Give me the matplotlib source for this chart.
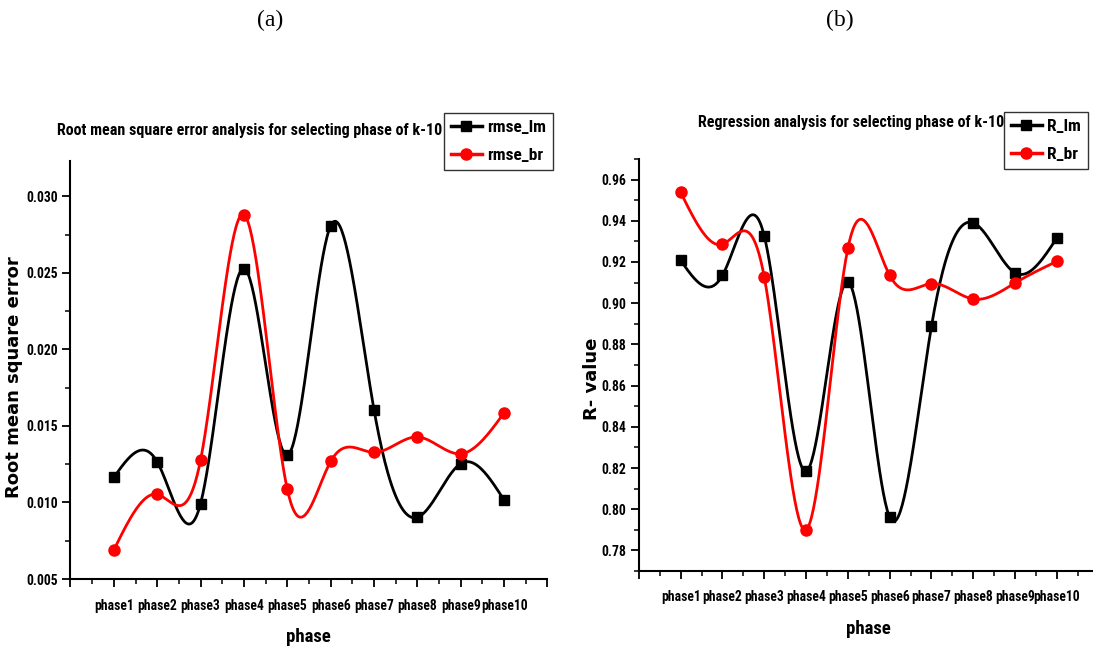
import numpy as np
import matplotlib.pyplot as plt
from matplotlib.ticker import MultipleLocator, FixedLocator
from matplotlib import font_manager

# Data
phases = ["phase1", "phase2", "phase3", "phase4", "phase5",
          "phase6", "phase7", "phase8", "phase9", "phase10"]
rmse_lm = [0.01164, 0.01265, 0.00993, 0.02528, 0.01309,
           0.02807, 0.01605, 0.00903, 0.01254, 0.01015]
rmse_br = [0.00690, 0.01053, 0.01278, 0.02880, 0.01086,
           0.01268, 0.01327, 0.01428, 0.01318, 0.01586]
r_lm = [0.9208, 0.9135, 0.9326, 0.8184, 0.9103,
        0.7961, 0.8888, 0.9390, 0.9147, 0.9317]
r_br = [0.9538, 0.9286, 0.9127, 0.7900, 0.9266,
        0.9135, 0.9095, 0.9020, 0.9098, 0.9203]

# pick a condensed face if one is around, otherwise shrink the regular one
names = {f.name for f in font_manager.fontManager.ttflist}
narrow, scale = "Liberation Sans", 0.82
for cand in ["Liberation Sans Narrow", "Roboto Condensed", "DejaVu Sans Condensed", "Arial Narrow"]:
    if cand in names:
        narrow, scale = cand, 1.0
        break


def natural_spline(x, y, n=400):
    # natural cubic spline through the points
    x = np.asarray(x, float)
    y = np.asarray(y, float)
    k = len(x)
    h = np.diff(x)
    A = np.zeros((k, k))
    b = np.zeros(k)
    A[0, 0] = A[-1, -1] = 1
    for i in range(1, k - 1):
        A[i, i - 1] = h[i - 1]
        A[i, i] = 2 * (h[i - 1] + h[i])
        A[i, i + 1] = h[i]
        b[i] = 3 * ((y[i + 1] - y[i]) / h[i] - (y[i] - y[i - 1]) / h[i - 1])
    c = np.linalg.solve(A, b)
    xs = np.linspace(x[0], x[-1], n)
    idx = np.clip(np.searchsorted(x, xs) - 1, 0, k - 2)
    dx = xs - x[idx]
    bb = (y[idx + 1] - y[idx]) / h[idx] - h[idx] * (2 * c[idx] + c[idx + 1]) / 3
    d = (c[idx + 1] - c[idx]) / (3 * h[idx])
    ys = y[idx] + bb * dx + c[idx] * dx ** 2 + d * dx ** 3
    return xs, ys


def draw(ax, lm, br, labels, ylim, major, minor, fmt, ylabel, title, title_xy,
         ylab_xy, xlab_xy, leg_anchor, xpad):
    x = np.arange(1, len(phases) + 1)
    for vals, color, marker, ms, lab in [(lm, "black", "s", 7, labels[0]),
                                         (br, "red", "o", 8, labels[1])]:
        xs, ys = natural_spline(x, vals)
        ax.plot(xs, ys, color=color, lw=2)
        ax.plot(x, vals, linestyle="none", marker=marker, color=color, ms=ms)
        ax.plot([], [], color=color, lw=2.5, marker=marker, ms=ms, label=lab)

    ax.set_xlim(0, 11)
    ax.set_ylim(*ylim)
    ax.xaxis.set_major_locator(FixedLocator(range(0, 12)))
    ax.xaxis.set_minor_locator(MultipleLocator(0.5))
    ax.set_xticklabels([""] + phases + [""])
    ax.yaxis.set_major_locator(MultipleLocator(major))
    ax.yaxis.set_minor_locator(MultipleLocator(minor))
    ax.yaxis.set_major_formatter(plt.FormatStrFormatter(fmt))

    for s in ["top", "right"]:
        ax.spines[s].set_visible(False)
    for s in ["left", "bottom"]:
        ax.spines[s].set_linewidth(1.5)
    ax.tick_params(which="major", length=6, width=1.3, direction="out")
    ax.tick_params(which="minor", length=3.5, width=1.1, direction="out")
    ax.tick_params(axis="x", which="major", pad=xpad)
    ax.tick_params(axis="y", which="major", pad=3)
    for t in ax.get_xticklabels() + ax.get_yticklabels():
        t.set_fontfamily(narrow)
        t.set_fontweight("bold")
        t.set_fontsize(9.8 * scale)

    ax.set_xlabel("phase", fontfamily=narrow, fontweight="bold", fontsize=13.5 * scale)
    ax.xaxis.set_label_coords(*xlab_xy)
    ax.set_ylabel(ylabel, fontfamily="DejaVu Sans", fontweight="bold", fontsize=13)
    ax.yaxis.set_label_coords(*ylab_xy)
    ax.figure.text(title_xy[0], title_xy[1], title, fontfamily=narrow, fontweight="bold",
                   fontsize=11.5 * scale, ha="center", va="center")

    leg = ax.legend(loc="upper right", bbox_to_anchor=leg_anchor, bbox_transform=ax.figure.transFigure,
                    frameon=True, fancybox=False, handlelength=1.8, handletextpad=0.3,
                    borderpad=0.4, labelspacing=0.75, borderaxespad=0,
                    prop={"family": narrow, "weight": "bold", "size": 12.5 * scale})
    leg.get_frame().set_edgecolor("black")
    leg.get_frame().set_linewidth(1.0)


fig = plt.figure(figsize=(10.93, 6.5), dpi=100)
ax1 = fig.add_axes([0.0645, 0.1092, 0.4364, 0.643])
ax2 = fig.add_axes([0.5845, 0.1215, 0.4207, 0.634])

draw(ax1, rmse_lm, rmse_br, ["rmse_lm", "rmse_br"], (0.005, 0.0323), 0.005, 0.0025, "%.3f",
     "Root mean square error",
     "Root mean square error analysis for selecting phase of k-10", (0.2287, 0.80),
     (-0.0996, 0.483), (0.498, -0.117), (0.506, 0.826), 8.5)
draw(ax2, r_lm, r_br, ["R_lm", "R_br"], (0.77, 0.97), 0.02, 0.01, "%.2f",
     "R- value",
     "Regression analysis for selecting phase of k-10", (0.7786, 0.8123),
     (-0.082, 0.466), (0.4996, -0.119), (0.9954, 0.8277), 8)

fig.text(0.247, 0.969, "(a)", fontfamily="Liberation Serif", fontsize=17, ha="center", va="center")
fig.text(0.768, 0.969, "(b)", fontfamily="Liberation Serif", fontsize=17, ha="center", va="center")

fig.savefig("out.png", dpi=100)
